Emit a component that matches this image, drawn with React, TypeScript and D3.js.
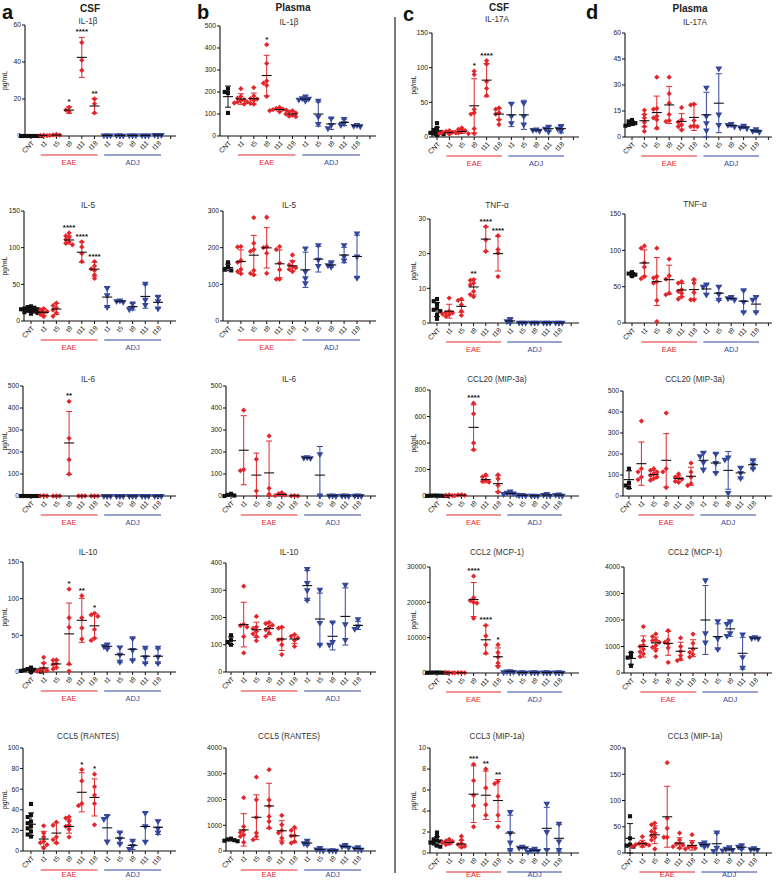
import React from 'react';
import * as d3 from 'd3';

// ---------- categories ----------
const GROUP_LABELS = ['CNT', 't1', 't5', 't8', 't11', 't18', 't1', 't5', 't8', 't11', 't18'];
const GROUP_KIND = ['cnt', 'eae', 'eae', 'eae', 'eae', 'eae', 'adj', 'adj', 'adj', 'adj', 'adj'];
const GROUP_BARS = [
  { name: 'EAE', from: 1, to: 5, kind: 'eae' },
  { name: 'ADJ', from: 6, to: 10, kind: 'adj' },
];
const COLUMN_HEADERS = ['CSF', 'Plasma', 'CSF', 'Plasma'];
const COLUMN_LETTERS = ['a', 'b', 'c', 'd'];

// ---------- a1 CSF IL-1β ----------
const CSF_IL1B_TICKS = [0, 20, 40, 60];
const CSF_IL1B_PTS = [[0, 0, 0, 0, 0, 0, 0], [0.3, 0.2, 0.4], [0.5, 0.8, 0.3, 0.6], [15.5, 14, 13], [50.5, 35.5, 41], [20, 17.5, 12.5], [0.3, 0.3, 0.3], [0.3, 0.2, 0.4], [0.3, 0.3, 0.3], [0.3, 0.3, 0.3], [0.5, 0.5, 0.6]];
const CSF_IL1B_MEAN = [0, 0.3, 0.5, 14, 42.5, 16.2, 0.3, 0.3, 0.3, 0.3, 0.5];
const CSF_IL1B_SD = [0, 0.1, 0.2, 1.8, 10.8, 4, 0, 0, 0, 0, 0];
const CSF_IL1B_STARS = ['', '', '', '*', '****', '**', '', '', '', '', ''];

// ---------- b1 Plasma IL-1β ----------
const PL_IL1B_TICKS = [0, 100, 200, 300, 400, 500];
const PL_IL1B_PTS = [[215, 200, 195, 105], [215, 180, 165, 150, 155, 172, 145, 160], [220, 182, 168, 155, 148, 145, 162, 170], [415, 330, 250, 240, 230, 180], [130, 125, 120, 115, 110, 118, 122], [115, 110, 100, 95, 90, 105, 88], [180, 172, 165, 160, 170], [160, 88, 55], [80, 50, 35], [78, 58, 50], [50, 46, 44]];
const PL_IL1B_MEAN = [179, 168, 170, 275, 120, 100, 168, 100, 55, 62, 47];
const PL_IL1B_SD = [48, 24, 25, 92, 8, 10, 8, 55, 25, 15, 4];
const PL_IL1B_STARS = ['', '', '', '*', '', '', '', '', '', '', ''];

// ---------- c1 CSF IL-17A ----------
const CSF_IL17_TICKS = [0, 50, 100, 150];
const CSF_IL17_PTS = [[20, 13, 10, 8, 6, 5, 4, 3, 7], [9, 8, 7, 6, 5, 4, 7], [13, 11, 9, 8, 6, 5, 7], [95, 90, 40, 35, 33, 12, 5], [110, 105, 80, 70, 60], [42, 40, 35, 33, 25, 18], [48, 30, 20], [49, 30, 18], [11, 10, 9], [15, 12, 8], [15, 12, 9]];
const CSF_IL17_MEAN = [8, 6.5, 8, 45, 82, 33, 32, 32, 10, 12, 12];
const CSF_IL17_SD = [6, 2, 3, 39, 24, 8, 17, 21, 1, 3.5, 6];
const CSF_IL17_STARS = ['', '', '', '*', '****', '', '', '', '', '', ''];

// ---------- d1 Plasma IL-17A ----------
const PL_IL17_TICKS = [0, 15, 30, 45, 60];
const PL_IL17_PTS = [[9.8, 9, 8, 7.5, 7, 6.5], [15.5, 13, 11, 8.5, 6, 3.3], [34.5, 16.5, 16, 12, 11, 10, 5.2], [34.5, 25, 19.5, 13, 9.5, 9], [17, 10, 8.5, 7, 6, 4], [19, 18.5, 9.5, 6, 6, 6.5], [28.5, 12, 8, 3.8], [39.5, 13, 7], [7.5, 7, 6], [6.5, 5.5, 5], [4.5, 3.5, 3]];
const PL_IL17_MEAN = [8, 9.4, 14.1, 18.5, 9, 11.3, 12.8, 19.5, 6.7, 5.7, 3.5];
const PL_IL17_SD = [1.2, 3.5, 9.5, 10.7, 4.5, 7.5, 13, 17, 0.8, 0.8, 0.8];
const PL_IL17_STARS = ['', '', '', '', '', '', '', '', '', '', ''];

// ---------- a2 CSF IL-5 ----------
const CSF_IL5_TICKS = [0, 50, 100, 150];
const CSF_IL5_PTS = [[20, 18, 16, 15, 14, 13, 12, 11, 10, 17, 19, 14, 16], [17, 15, 13, 9, 6, 11], [24.5, 21, 15, 11, 6.5, 18], [120, 116, 114, 111, 108, 106, 104], [108, 101, 92, 81], [81, 75, 71, 69, 63, 58], [45, 35, 19], [28, 27, 26], [24, 18, 16], [51, 29, 22], [33, 27, 17]];
const CSF_IL5_MEAN = [15, 11.8, 16.3, 110.5, 93.8, 70.7, 32.6, 27, 19.5, 33.5, 25.5];
const CSF_IL5_SD = [3, 4.5, 7.5, 5.5, 14, 9.5, 14, 1, 4.5, 16, 8];
const CSF_IL5_STARS = ['', '', '', '****', '****', '****', '', '', '', '', ''];

// ---------- b2 Plasma IL-5 ----------
const PL_IL5_TICKS = [0, 100, 200, 300];
const PL_IL5_PTS = [[160, 147, 140, 138], [203, 202, 165, 160, 141, 135, 129], [282, 212, 195, 190, 138, 130, 126], [283, 203, 200, 185, 130], [203, 195, 158, 140, 114, 114], [180, 162, 153, 148, 141, 135, 145], [198, 135, 117, 103], [207, 167, 150], [160, 152, 148], [207, 176, 165], [239, 176, 118]];
const PL_IL5_MEAN = [146, 162, 179.5, 199.5, 156, 150.5, 139.6, 168.6, 153, 180, 176];
const PL_IL5_SD = [9, 32, 54, 55, 38, 14, 48, 35, 6, 21, 58];
const PL_IL5_STARS = ['', '', '', '', '', '', '', '', '', '', ''];

// ---------- c2 CSF TNF-α ----------
const CSF_TNF_TICKS = [0, 10, 20, 30];
const CSF_TNF_PTS = [[6.9, 6.3, 5.5, 4.3, 3.4, 2.4, 1.2, 3.8], [7.2, 3.4, 2.9, 2.6, 2.4, 1.9, 3], [6.9, 6.5, 5.3, 3.4, 2.2], [12.5, 12.3, 11.5, 11, 9.1, 8.2, 7.6], [27.8, 24, 20.7], [25.2, 21.2, 20.2, 13.4], [1.2, 0.5, 0.2], [0.1, 0.1, 0.1], [0.1, 0.1, 0.1], [0.1, 0.1, 0.1], [0.1, 0.1, 0.1]];
const CSF_TNF_MEAN = [3.85, 3.4, 4.8, 10.4, 24.2, 20, 0.6, 0.1, 0.1, 0.1, 0.1];
const CSF_TNF_SD = [2, 2, 1.7, 2.3, 3.6, 5, 0.6, 0, 0, 0, 0];
const CSF_TNF_STARS = ['', '', '', '**', '****', '****', '', '', '', '', ''];

// ---------- d2 Plasma TNF-α ----------
const PL_TNF_TICKS = [0, 50, 100, 150];
const PL_TNF_PTS = [[70, 68, 66.5, 64.5], [106, 103, 83, 77, 64, 61], [103, 64, 62, 57, 55, 31, 2], [88, 65, 60.5, 41, 39], [57, 55, 46, 43.6, 41, 36, 33], [60, 55, 42, 32, 32], [53, 50, 39], [50, 40, 32], [36, 34, 32], [45, 29, 15], [36, 32, 15]];
const PL_TNF_MEAN = [67, 82.6, 57, 59.6, 45.4, 46, 46.8, 41, 34, 30, 26];
const PL_TNF_SD = [2.5, 18, 33, 20, 9, 13, 6, 10, 2, 15, 11];
const PL_TNF_STARS = ['', '', '', '', '', '', '', '', '', '', ''];

// ---------- a3 CSF IL-6 ----------
const CSF_IL6_TICKS = [0, 100, 200, 300, 400, 500];
const CSF_IL6_PTS = [[0, 0, 0, 0, 0, 0], [2, 1, 0], [0, 0, 0], [430, 262, 165, 100], [0, 0, 0], [0, 0, 0], [0, 0, 0], [0, 0, 0], [0, 0, 0], [0, 0, 0], [0, 0, 0]];
const CSF_IL6_MEAN = [0, 1, 0, 241, 0, 0, 0, 0, 0, 0, 0];
const CSF_IL6_SD = [0, 1, 0, 143, 0, 0, 0, 0, 0, 0, 0];
const CSF_IL6_STARS = ['', '', '', '**', '', '', '', '', '', '', ''];

// ---------- b3 Plasma IL-6 ----------
const PL_IL6_TICKS = [0, 100, 200, 300, 400, 500];
const PL_IL6_PTS = [[10, 5, 2, 0], [390, 120, 115], [167, 23], [273, 35, 8], [15, 10, 5, 2], [2, 1, 0], [176, 174, 172], [190, 2], [2, 1, 0], [2, 1, 0], [2, 1, 0]];
const PL_IL6_MEAN = [5, 208, 95, 105, 7, 1, 174, 95, 1, 1, 1];
const PL_IL6_SD = [4, 157, 100, 145, 6, 1, 2, 130, 1, 1, 1];
const PL_IL6_STARS = ['', '', '', '', '', '', '', '', '', '', ''];

// ---------- c3 CSF CCL20 ----------
const CSF_CCL20_TICKS = [0, 200, 400, 600, 800];
const CSF_CCL20_PTS = [[3, 2, 1, 1, 0, 2, 3], [8, 5, 2], [10, 8, 5, 3], [700, 620, 400, 350], [160, 145, 120, 110, 105], [160, 130, 80, 30], [35, 25, 20, 15, 10], [8, 5, 3], [3, 2, 1], [15, 8, 3], [12, 8, 2]];
const CSF_CCL20_MEAN = [2, 5, 6, 518, 124, 93, 20, 5, 2, 8, 7];
const CSF_CCL20_SD = [1, 3, 3, 170, 25, 60, 10, 2, 1, 6, 5];
const CSF_CCL20_STARS = ['', '', '', '****', '', '', '', '', '', '', ''];

// ---------- d3 Plasma CCL20 ----------
const PL_CCL20_TICKS = [0, 100, 200, 300, 400, 500];
const PL_CCL20_PTS = [[130, 62, 50, 40], [357, 130, 115, 78, 90], [130, 122, 114, 106, 98, 90, 83, 75], [395, 130, 115, 40], [105, 90, 85, 80, 70, 65], [157, 114, 90, 59, 50], [206, 190, 160, 125], [201, 157, 110], [183, 173, 15], [135, 110, 85], [170, 150, 130]];
const PL_CCL20_MEAN = [78, 154, 102, 170, 83, 94, 170, 157, 122, 110, 149];
const PL_CCL20_SD = [42, 103, 20, 127, 13, 43, 38, 45, 90, 28, 20];
const PL_CCL20_STARS = ['', '', '', '', '', '', '', '', '', '', ''];

// ---------- a4 CSF IL-10 ----------
const CSF_IL10_TICKS = [0, 50, 100, 150];
const CSF_IL10_PTS = [[6, 4, 3, 2, 1, 0.5, 0, 1.5, 2.5], [20, 12, 5, 3, 2, 1], [16.5, 16, 11.5, 10, 6, 4], [113, 74, 61, 11, 1], [104, 74, 60, 45], [80, 78, 76, 58, 46, 43], [37.5, 35, 32], [33.6, 23.6, 14], [46, 30, 16], [33, 20, 12], [33, 21, 12]];
const CSF_IL10_MEAN = [2, 5.5, 11, 52, 70.5, 63, 35, 23.6, 31, 21.5, 21.5];
const CSF_IL10_SD = [2, 7, 5, 42, 30, 17, 3, 11, 15, 10, 10];
const CSF_IL10_STARS = ['', '', '', '*', '**', '*', '', '', '', '', ''];

// ---------- b4 Plasma IL-10 ----------
const PL_IL10_TICKS = [0, 100, 200, 300, 400];
const PL_IL10_PTS = [[135, 118, 110, 100], [315, 175, 170, 165, 130, 70], [204, 165, 160, 149, 131, 115, 140], [182, 178, 172, 165, 155, 143, 131], [165, 161, 120, 118, 100, 64], [137, 131, 125, 116, 94], [378, 327, 300, 265], [302, 180, 100], [182, 110, 100], [320, 175, 118], [194, 167, 158]];
const PL_IL10_MEAN = [115, 174, 155, 159, 121, 121, 317, 194.5, 131, 204, 171];
const PL_IL10_SD = [14, 82, 28, 22, 42, 17, 55, 95, 50, 105, 15];
const PL_IL10_STARS = ['', '', '', '', '', '', '', '', '', '', ''];

// ---------- c4 CSF CCL2 ----------
const CSF_CCL2_TICKS = [0, 10000, 20000, 30000];
const CSF_CCL2_PTS = [[150, 100, 80, 50, 120, 60, 90], [100, 80, 50], [120, 90, 60, 40], [27400, 21300, 20500, 20000, 19800, 15500], [13500, 10500, 8000, 5600], [8000, 5800, 4500, 2800, 1800], [500, 400, 300, 200], [200, 150, 100], [200, 150, 100], [200, 150, 100], [200, 150, 100]];
const CSF_CCL2_MEAN = [90, 75, 75, 20800, 9400, 4600, 350, 150, 150, 150, 150];
const CSF_CCL2_SD = [40, 25, 30, 4800, 4000, 2500, 120, 50, 50, 50, 50];
const CSF_CCL2_STARS = ['', '', '', '****', '****', '*', '', '', '', '', ''];

// ---------- d4 Plasma CCL2 ----------
const PL_CCL2_TICKS = [0, 1000, 2000, 3000, 4000];
const PL_CCL2_PTS = [[760, 610, 580, 270], [1750, 1220, 1050, 1000, 800, 720, 620, 900], [1475, 1375, 1220, 1160, 1035, 970, 845, 620, 1250], [1600, 1250, 1160, 1100, 950, 400], [1325, 1000, 820, 660, 530, 470], [1470, 1120, 900, 780, 700, 600], [3500, 1500, 1150], [1950, 1300, 900], [1950, 1850, 1500, 1400], [1450, 600, 200], [1350, 1320, 1300]];
const PL_CCL2_MEAN = [550, 1000, 1135, 1120, 820, 935, 2000, 1375, 1665, 745, 1320];
const PL_CCL2_SD = [220, 400, 215, 450, 340, 320, 1300, 480, 280, 600, 20];
const PL_CCL2_STARS = ['', '', '', '', '', '', '', '', '', '', ''];

// ---------- a5 CSF CCL5 ----------
const CSF_CCL5_TICKS = [0, 20, 40, 60, 80, 100];
const CSF_CCL5_PTS = [[45.7, 35, 33, 28.6, 27, 24, 22, 19, 16, 14], [24.4, 17.4, 13.5, 9.3, 6.1, 2.9, 8], [28, 25, 13.5, 11, 8], [33, 32, 29, 25, 21, 13.5, 24], [79, 68, 46, 44], [74.6, 62.4, 54.3, 46, 25.4], [34, 31, 9], [18, 12, 7], [10, 5, 2], [37, 24, 9], [29, 22, 18]];
const CSF_CCL5_MEAN = [26, 11.6, 17.4, 23.8, 57, 52, 22.5, 12.5, 5.5, 23.8, 23];
const CSF_CCL5_SD = [11, 7.5, 10, 6.5, 19, 18, 12, 5.5, 4, 14, 7];
const CSF_CCL5_STARS = ['', '', '', '', '*', '*', '', '', '', '', ''];

// ---------- b5 Plasma CCL5 ----------
const PL_CCL5_TICKS = [0, 1000, 2000, 3000, 4000];
const PL_CCL5_PTS = [[480, 450, 420, 400, 380], [2070, 950, 800, 720, 630, 565, 335], [2870, 1990, 1300, 700, 560, 440], [3160, 1980, 1750, 1340, 1150, 900], [1380, 1020, 800, 700, 500, 320], [920, 800, 600, 590, 370, 310], [400, 300, 250], [120, 60, 20], [30, 20, 10], [230, 180, 130], [150, 100, 50]];
const PL_CCL5_MEAN = [430, 820, 1310, 1750, 785, 590, 310, 65, 20, 180, 100];
const PL_CCL5_SD = [40, 630, 870, 880, 390, 270, 80, 50, 10, 50, 50];
const PL_CCL5_STARS = ['', '', '', '', '', '', '', '', '', '', ''];

// ---------- c5 CSF CCL3 ----------
const CSF_CCL3_TICKS = [0, 2, 4, 6, 8, 10];
const CSF_CCL3_PTS = [[1.95, 1.6, 1.3, 1.2, 1.1, 1, 0.9, 0.7, 0.6], [1.3, 1.15, 1.1, 1, 0.9, 0.8], [1.6, 1.25, 0.9, 0.8, 0.65, 0.55], [8.45, 6.9, 5.5, 4.5, 2.5], [8, 6.2, 4.6, 3.6], [6.8, 6.6, 5.4, 3.6, 2.5], [3.9, 1.9, 1, 0.3], [0.6, 0.5, 0.45], [0.4, 0.3, 0.2, 0.1], [4.7, 2, 0.3], [2.8, 1.1, 0.3]];
const CSF_CCL3_MEAN = [1.1, 1, 0.85, 5.6, 5.5, 5, 1.9, 0.5, 0.25, 2.35, 1.4];
const CSF_CCL3_SD = [0.45, 0.2, 0.35, 2.7, 2.3, 2, 1.7, 0.08, 0.15, 2, 1.3];
const CSF_CCL3_STARS = ['', '', '', '***', '**', '**', '', '', '', '', ''];

// ---------- d5 Plasma CCL3 ----------
const PL_CCL3_TICKS = [0, 50, 100, 150, 200];
const PL_CCL3_PTS = [[70, 28, 16, 12, 14], [31, 20, 18, 17, 16, 15, 13, 12], [57, 54, 47, 41, 33, 25, 7.6, 38, 30], [172, 66, 47, 30, 30], [38, 25, 18, 15, 12, 9.5, 17], [35, 20, 13, 11, 9.5, 7.6], [20, 17, 15, 12], [39, 10, 4], [11, 8, 6, 5], [15, 12, 8], [9, 7, 6]];
const PL_CCL3_MEAN = [28, 17.7, 34.7, 69, 19, 14.5, 16, 17.7, 7.5, 11, 7.5];
const PL_CCL3_SD = [28, 6.5, 17, 58, 10, 9, 3, 20, 3, 4, 2];
const PL_CCL3_STARS = ['', '', '', '', '', '', '', '', '', '', ''];

// ---------- panel table (built from the arrays) ----------
const PANELS = [
  { col: 0, row: 0, title: 'IL-1β', ticks: CSF_IL1B_TICKS, pts: CSF_IL1B_PTS, mean: CSF_IL1B_MEAN, sd: CSF_IL1B_SD, stars: CSF_IL1B_STARS },
  { col: 1, row: 0, title: 'IL-1β', ticks: PL_IL1B_TICKS, pts: PL_IL1B_PTS, mean: PL_IL1B_MEAN, sd: PL_IL1B_SD, stars: PL_IL1B_STARS },
  { col: 2, row: 0, title: 'IL-17A', ticks: CSF_IL17_TICKS, pts: CSF_IL17_PTS, mean: CSF_IL17_MEAN, sd: CSF_IL17_SD, stars: CSF_IL17_STARS },
  { col: 3, row: 0, title: 'IL-17A', ticks: PL_IL17_TICKS, pts: PL_IL17_PTS, mean: PL_IL17_MEAN, sd: PL_IL17_SD, stars: PL_IL17_STARS },
  { col: 0, row: 1, title: 'IL-5', ticks: CSF_IL5_TICKS, pts: CSF_IL5_PTS, mean: CSF_IL5_MEAN, sd: CSF_IL5_SD, stars: CSF_IL5_STARS },
  { col: 1, row: 1, title: 'IL-5', ticks: PL_IL5_TICKS, pts: PL_IL5_PTS, mean: PL_IL5_MEAN, sd: PL_IL5_SD, stars: PL_IL5_STARS },
  { col: 2, row: 1, title: 'TNF-α', ticks: CSF_TNF_TICKS, pts: CSF_TNF_PTS, mean: CSF_TNF_MEAN, sd: CSF_TNF_SD, stars: CSF_TNF_STARS },
  { col: 3, row: 1, title: 'TNF-α', ticks: PL_TNF_TICKS, pts: PL_TNF_PTS, mean: PL_TNF_MEAN, sd: PL_TNF_SD, stars: PL_TNF_STARS },
  { col: 0, row: 2, title: 'IL-6', ticks: CSF_IL6_TICKS, pts: CSF_IL6_PTS, mean: CSF_IL6_MEAN, sd: CSF_IL6_SD, stars: CSF_IL6_STARS },
  { col: 1, row: 2, title: 'IL-6', ticks: PL_IL6_TICKS, pts: PL_IL6_PTS, mean: PL_IL6_MEAN, sd: PL_IL6_SD, stars: PL_IL6_STARS },
  { col: 2, row: 2, title: 'CCL20 (MIP-3a)', ticks: CSF_CCL20_TICKS, pts: CSF_CCL20_PTS, mean: CSF_CCL20_MEAN, sd: CSF_CCL20_SD, stars: CSF_CCL20_STARS },
  { col: 3, row: 2, title: 'CCL20 (MIP-3a)', ticks: PL_CCL20_TICKS, pts: PL_CCL20_PTS, mean: PL_CCL20_MEAN, sd: PL_CCL20_SD, stars: PL_CCL20_STARS },
  { col: 0, row: 3, title: 'IL-10', ticks: CSF_IL10_TICKS, pts: CSF_IL10_PTS, mean: CSF_IL10_MEAN, sd: CSF_IL10_SD, stars: CSF_IL10_STARS },
  { col: 1, row: 3, title: 'IL-10', ticks: PL_IL10_TICKS, pts: PL_IL10_PTS, mean: PL_IL10_MEAN, sd: PL_IL10_SD, stars: PL_IL10_STARS },
  { col: 2, row: 3, title: 'CCL2 (MCP-1)', ticks: CSF_CCL2_TICKS, pts: CSF_CCL2_PTS, mean: CSF_CCL2_MEAN, sd: CSF_CCL2_SD, stars: CSF_CCL2_STARS },
  { col: 3, row: 3, title: 'CCL2 (MCP-1)', ticks: PL_CCL2_TICKS, pts: PL_CCL2_PTS, mean: PL_CCL2_MEAN, sd: PL_CCL2_SD, stars: PL_CCL2_STARS },
  { col: 0, row: 4, title: 'CCL5 (RANTES)', ticks: CSF_CCL5_TICKS, pts: CSF_CCL5_PTS, mean: CSF_CCL5_MEAN, sd: CSF_CCL5_SD, stars: CSF_CCL5_STARS },
  { col: 1, row: 4, title: 'CCL5 (RANTES)', ticks: PL_CCL5_TICKS, pts: PL_CCL5_PTS, mean: PL_CCL5_MEAN, sd: PL_CCL5_SD, stars: PL_CCL5_STARS },
  { col: 2, row: 4, title: 'CCL3 (MIP-1a)', ticks: CSF_CCL3_TICKS, pts: CSF_CCL3_PTS, mean: CSF_CCL3_MEAN, sd: CSF_CCL3_SD, stars: CSF_CCL3_STARS },
  { col: 3, row: 4, title: 'CCL3 (MIP-1a)', ticks: PL_CCL3_TICKS, pts: PL_CCL3_PTS, mean: PL_CCL3_MEAN, sd: PL_CCL3_SD, stars: PL_CCL3_STARS },
];

// ---------- layout (pixels) ----------
const W = 778;
const H = 883;
const FONT = '"Liberation Sans", Arial, Helvetica, sans-serif';
const COLORS: Record<string, string> = { cnt: '#111111', eae: '#e3262b', adj: '#34479b' };

const COL_LAYOUT = [
  { axis: [25, 24, 23, 23, 23], first: [31, 31, 31, 31, 31], step: [12.7, 12.7, 12.7, 12.7, 12.7], end: 176, titleX: 88, yLabelX: 7, headerX: 90, headerY: 12, letterX: 2, letterY: 19 },
  { axis: [220, 223, 226, 226, 226], first: [228, 228, 231, 231, 231], step: [12.9, 12.9, 12.7, 12.7, 12.7], end: 376, titleX: 289, yLabelX: null, headerX: 293, headerY: 11, letterX: 197, letterY: 19 },
  { axis: [432, 430, 430, 430, 430], first: [437, 437, 437, 437, 437], step: [12.4, 12.2, 12.2, 12.2, 12.2], end: 579, titleX: 497, yLabelX: 416, headerX: 499, headerY: 11, letterX: 403, letterY: 21 },
  { axis: [625, 625, 623, 624, 625], first: [632, 632, 629, 631, 630], step: [12.4, 12.4, 12.4, 12.4, 12.4], end: 772, titleX: 695, yLabelX: null, headerX: 690, headerY: 12, letterX: 586, letterY: 19 },
];
// [top, zero] per row per column
const ROW_Y = [
  [[25, 136], [211, 321], [386, 496], [562, 672], [748, 851]],
  [[26, 136], [211, 321], [386, 496], [563, 672], [748, 851]],
  [[33, 137], [219, 323], [390, 496], [567, 673], [748, 853]],
  [[33, 137], [214, 323], [391, 496], [567, 673], [748, 853]],
];
const TITLE_Y = [[24, 208, 382, 555, 739], [25, 208, 382, 555, 739], [22, 208, 382, 555, 739], [25, 207, 382, 555, 739]];

const squarePath = d3.symbol().type(d3.symbolSquare).size(17)() as string;
const diamondPath = d3.symbol().type(d3.symbolSquare).size(14)() as string;
const trianglePath = d3.symbol().type(d3.symbolTriangle).size(20)() as string;

function spread(vals: number[], y: d3.ScaleLinear<number, number>) {
  const order = vals.map((v) => ({ v, py: y(v) })).sort((a, b) => a.py - b.py);
  const placed: { dx: number; py: number }[] = [];
  const cand = [0, -3.3, 3.3, -6.6, 6.6, -9.9, 9.9];
  for (const o of order) {
    let dx = 0;
    for (const c of cand) {
      if (placed.every((p) => Math.abs(p.py - o.py) >= 3.4 || Math.abs(p.dx - c) >= 3.3)) {
        dx = c;
        break;
      }
    }
    placed.push({ dx, py: o.py });
  }
  return placed;
}

function Marker({ kind, x, y }: { kind: string; x: number; y: number }) {
  const c = COLORS[kind];
  if (kind === 'cnt') return <path d={squarePath} transform={`translate(${x},${y})`} fill={c} />;
  if (kind === 'eae') return <path d={diamondPath} transform={`translate(${x},${y}) rotate(45)`} fill={c} />;
  return <path d={trianglePath} transform={`translate(${x},${y}) rotate(180)`} fill={c} />;
}

function Panel({ p }: { p: (typeof PANELS)[number] }) {
  const L = COL_LAYOUT[p.col];
  const [top, zero] = ROW_Y[p.col][p.row];
  const axisX = L.axis[p.row];
  const first = L.first[p.row];
  const step = L.step[p.row];
  const yMax = p.ticks[p.ticks.length - 1];
  const y = d3.scaleLinear().domain([0, yMax]).range([zero, top]);
  const x = d3.scalePoint<number>().domain(d3.range(12)).range([first, first + 11 * step]);
  const fmt = d3.format('d');
  const barY = zero + 19;
  const barTextY = Math.min(zero + 29, 877);

  return (
    <g>
      <text x={L.titleX} y={TITLE_Y[p.col][p.row]} fontSize={8.2} textAnchor="middle" fill="#333" fontFamily={FONT}>
        {p.title}
      </text>
      {L.yLabelX !== null && (
        <text
          transform={`translate(${L.yLabelX},${(top + zero) / 2}) rotate(-90)`}
          fontSize={6.8}
          textAnchor="middle"
          fill="#222"
          fontFamily={FONT}
        >
          pg/mL
        </text>
      )}
      {/* y axis */}
      <line x1={axisX} x2={axisX} y1={top} y2={zero} stroke="#111" strokeWidth={1.1} />
      {p.ticks.map((t) => (
        <g key={t}>
          <line x1={axisX - 3} x2={axisX} y1={y(t)} y2={y(t)} stroke="#111" strokeWidth={1} />
          <text x={axisX - 4} y={y(t)} dy="0.35em" fontSize={6.8} textAnchor="end" fill="#222" fontFamily={FONT}>
            {fmt(t)}
          </text>
        </g>
      ))}
      {/* x axis */}
      <line x1={axisX} x2={L.end} y1={zero} y2={zero} stroke="#111" strokeWidth={1.1} />
      {d3.range(12).map((i) => (
        <line key={i} x1={x(i)} x2={x(i)} y1={zero} y2={zero + 3} stroke="#111" strokeWidth={1} />
      ))}
      {GROUP_LABELS.map((lab, i) => (
        <text
          key={i}
          transform={`translate(${(x(i) as number) + 2},${zero + 6}) rotate(-45)`}
          dy="0.35em"
          fontSize={6.8}
          textAnchor="end"
          fill="#222"
          fontFamily={FONT}
        >
          {lab}
        </text>
      ))}
      {GROUP_BARS.map((b) => {
        const x0 = (x(b.from) as number) - 3;
        const x1 = (x(b.to) as number) + 3;
        return (
          <g key={b.name}>
            <line x1={x0} x2={x1} y1={barY} y2={barY} stroke={COLORS[b.kind]} strokeWidth={1.2} />
            <text x={(x0 + x1) / 2} y={barTextY} fontSize={7.5} textAnchor="middle" fill={COLORS[b.kind]} fontFamily={FONT}>
              {b.name}
            </text>
          </g>
        );
      })}
      {/* groups */}
      {p.pts.map((vals, i) => {
        const kind = GROUP_KIND[i];
        const cx = x(i) as number;
        const placed = spread(vals, y);
        const m = p.mean[i];
        const s = p.sd[i];
        const yHi = y(Math.min(m + s, yMax * 1.05));
        const yLo = y(Math.max(m - s, 0));
        const col = COLORS[kind];
        const topVal = Math.max(m + s, d3.max(vals) as number);
        return (
          <g key={i}>
            {placed.map((pt, j) => (
              <Marker key={j} kind={kind} x={cx + pt.dx} y={pt.py} />
            ))}
            {s > 0 && (
              <g stroke={col} strokeWidth={1}>
                <line x1={cx} x2={cx} y1={yHi} y2={yLo} />
                <line x1={cx - 3} x2={cx + 3} y1={yHi} y2={yHi} />
                <line x1={cx - 3} x2={cx + 3} y1={yLo} y2={yLo} />
              </g>
            )}
            <line x1={cx - 5} x2={cx + 5} y1={y(m)} y2={y(m)} stroke="#111" strokeWidth={1.1} />
            {p.stars[i] && (
              <text x={cx} y={y(topVal) - 3} fontSize={8} fontWeight="bold" textAnchor="middle" fill="#111" fontFamily={FONT}>
                {p.stars[i]}
              </text>
            )}
          </g>
        );
      })}
    </g>
  );
}

export default function App() {
  return (
    <svg
      width={W}
      height={H}
      viewBox={`0 0 ${W} ${H}`}
      style={{ position: 'absolute', left: 0, top: 0, display: 'block', background: '#fff' }}
    >
      <rect x={0} y={0} width={W} height={H} fill="#fff" />
      {COL_LAYOUT.map((L, c) => (
        <g key={c}>
          <text x={L.letterX} y={L.letterY} fontSize={20} fontWeight="bold" fill="#111" fontFamily={FONT}>
            {COLUMN_LETTERS[c]}
          </text>
          <text x={L.headerX} y={L.headerY} fontSize={10} fontWeight="bold" textAnchor="middle" fill="#222" fontFamily={FONT}>
            {COLUMN_HEADERS[c]}
          </text>
        </g>
      ))}
      <line x1={395} x2={395} y1={17} y2={873} stroke="#333" strokeWidth={1.3} />
      {PANELS.map((p, k) => (
        <Panel key={k} p={p} />
      ))}
    </svg>
  );
}
